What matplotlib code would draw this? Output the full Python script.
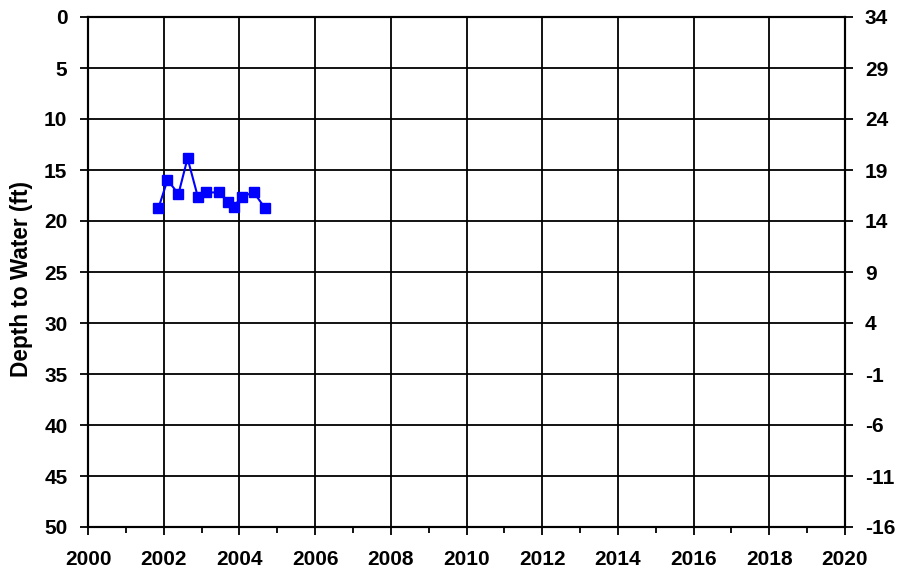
import matplotlib
matplotlib.use("Agg")
import matplotlib.pyplot as plt
from matplotlib.ticker import MultipleLocator

plt.rcParams['font.family'] = ['Liberation Sans', 'DejaVu Sans']
plt.rcParams['font.weight'] = 'bold'
plt.rcParams['axes.unicode_minus'] = False

years = [2001.86, 2002.10, 2002.39, 2002.63, 2002.90, 2003.12, 2003.47,
         2003.69, 2003.85, 2004.07, 2004.38, 2004.68]
depth = [18.75, 15.98, 17.35, 13.85, 17.6, 17.2, 17.2, 18.1, 18.6, 17.6, 17.2, 18.75]
x_ticks = list(range(2000, 2021, 2))
left_ticks = list(range(0, 51, 5))
right_ticks = list(range(34, -17, -5))

FS = 15
fig = plt.figure(figsize=(9.07, 5.74), dpi=100)
ax = fig.add_axes([88/907, 1-527/574, (845-88)/907, (527-17)/574])
ax.plot(years, depth, color='#0000FF', lw=1.5, marker='s', markersize=7.5, zorder=3)
ax.set_xlim(2000, 2020)
ax.set_ylim(50, 0)
ax.set_xticks(x_ticks)
ax.set_xticklabels([str(t) for t in x_ticks], fontweight='bold', fontsize=FS)
ax.xaxis.set_minor_locator(MultipleLocator(1))
ax.set_yticks(left_ticks)
ax.set_yticklabels([str(t) for t in left_ticks], fontweight='bold', fontsize=FS)
ax.grid(True, which='major', color='black', lw=1.3)
for s in ax.spines.values():
    s.set_linewidth(1.5)
ax.tick_params(axis='both', which='both', direction='out', width=1.3)
ax.tick_params(axis='both', which='major', length=5.8)
ax.tick_params(axis='x', which='minor', length=4.5)
ax.tick_params(axis='y', pad=9)
ax.tick_params(axis='x', pad=11)
ax.set_ylabel('Depth to Water (ft)', fontsize=16.3, fontweight='bold')
ax.yaxis.set_label_coords(-0.0723, 0.487)

ax2 = ax.twinx()
ax2.set_ylim(-16, 34)
ax2.set_yticks(right_ticks)
ax2.set_yticklabels([str(t) for t in right_ticks], fontweight='bold', fontsize=FS)
ax2.tick_params(axis='y', direction='out', width=1.3, length=5.8, pad=8.5)
for s in ax2.spines.values():
    s.set_linewidth(1.5)

fig.savefig('out.png', dpi=100)
